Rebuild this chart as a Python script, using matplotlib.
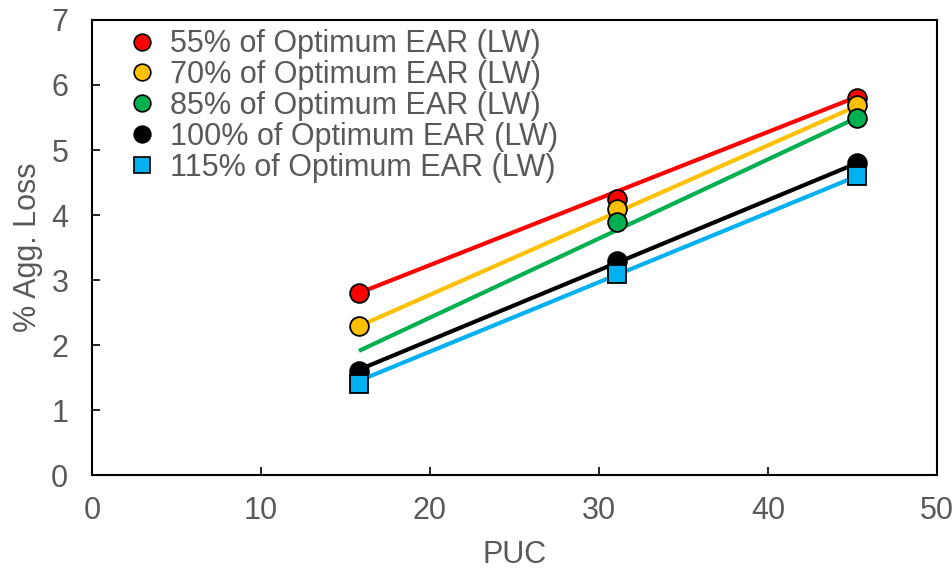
import numpy as np
import matplotlib.pyplot as plt
from matplotlib.lines import Line2D

plt.rcParams['font.family'] = ['Liberation Sans', 'DejaVu Sans']

# measured points
puc = [15.8, 31.1, 45.3]
loss_55 = [2.8, 4.25, 5.8]
loss_70 = [2.3, 4.1, 5.7]
loss_85 = [np.nan, 3.9, 5.5]
loss_100 = [1.6, 3.3, 4.8]
loss_115 = [1.4, 3.1, 4.6]

# trend lines (start / end at the outer PUC values)
trend_puc = [15.8, 45.3]
trend_55 = [2.8, 5.82]
trend_70 = [2.29, 5.68]
trend_85 = [1.91, 5.5]
trend_100 = [1.62, 4.8]
trend_115 = [1.45, 4.6]

labels = ["55% of Optimum EAR (LW)", "70% of Optimum EAR (LW)",
          "85% of Optimum EAR (LW)", "100% of Optimum EAR (LW)",
          "115% of Optimum EAR (LW)"]
colors = ["#ff0000", "#ffc000", "#00b050", "#000000", "#00b0f0"]
markers = ["o", "o", "o", "o", "s"]
points = [loss_55, loss_70, loss_85, loss_100, loss_115]
trends = [trend_55, trend_70, trend_85, trend_100, trend_115]

grey = "#595959"

fig = plt.figure(figsize=(9.53, 5.71), dpi=100)
ax = fig.add_axes([0.0965, 0.168, 0.8865, 0.797])

for tr, c in zip(trends, colors):
    ax.plot(trend_puc, tr, color=c, lw=3, solid_capstyle="butt", zorder=2)

handles = []
for pts, c, m, lab in zip(points, colors, markers, labels):
    ms = 13.5 if m == "o" else 12.5
    ax.plot(puc, pts, linestyle="none", marker=m, ms=ms, mfc=c, mec="black",
            mew=1.3, zorder=3)
    handles.append(Line2D([], [], linestyle="none", marker=m, ms=12, mfc=c,
                          mec="black", mew=1.2, label=lab))

ax.set_xlim(0, 50)
ax.set_ylim(0, 7)
ax.set_xticks(np.arange(0, 51, 10))
ax.set_yticks(np.arange(0, 8, 1))
ax.tick_params(direction="in", length=6, width=1.2, colors="black",
               labelcolor=grey, labelsize=22)
ax.tick_params(axis="y", pad=17)
ax.tick_params(axis="x", pad=15)
for s in ax.spines.values():
    s.set_linewidth(1.5)

ax.set_xlabel("PUC", color=grey, fontsize=22, labelpad=10)
ax.set_ylabel("% Agg. Loss", color=grey, fontsize=22, labelpad=6)

leg = ax.legend(handles=handles, loc="upper left", bbox_to_anchor=(0.008, 1.02),
                frameon=False, fontsize=22, labelspacing=0.03,
                handletextpad=0.14, handlelength=1.6, borderaxespad=0.2)
for t in leg.get_texts():
    t.set_color(grey)

fig.savefig("out.png", dpi=100)
